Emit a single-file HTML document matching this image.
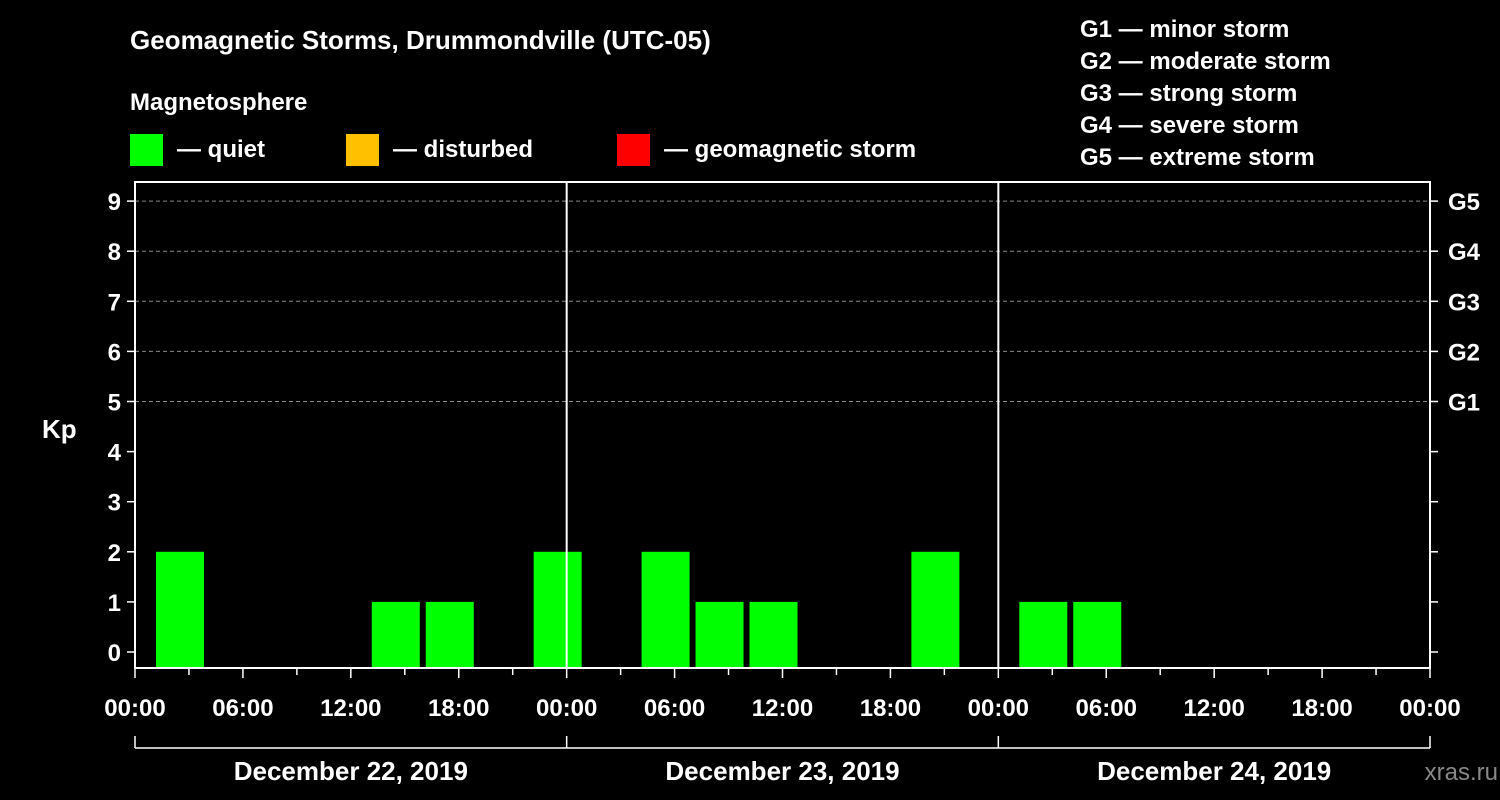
<!DOCTYPE html>
<html><head><meta charset="utf-8"><style>
html,body{margin:0;padding:0;background:#000;}
svg{display:block;font-family:"Liberation Sans",Arial,sans-serif;font-weight:bold;}
</style></head><body>
<svg width="1500" height="800" viewBox="0 0 1500 800" id="chart">
<rect x="0" y="0" width="1500" height="800" fill="#000"/>
<text x="130" y="49" fill="#fff" font-size="26">Geomagnetic Storms, Drummondville (UTC-05)</text>
<text x="130" y="110" fill="#fff" font-size="24">Magnetosphere</text>
<g><rect x="130" y="134" width="33" height="32" fill="#00ff00"/><text x="177" y="157" fill="#fff" font-size="24">— quiet</text></g>
<g><rect x="346" y="134" width="33" height="32" fill="#ffc000"/><text x="393" y="157" fill="#fff" font-size="24">— disturbed</text></g>
<g><rect x="617" y="134" width="33" height="32" fill="#ff0000"/><text x="664" y="157" fill="#fff" font-size="24">— geomagnetic storm</text></g>
<g fill="#fff" font-size="24">
<text x="1080" y="37">G1 — minor storm</text>
<text x="1080" y="69">G2 — moderate storm</text>
<text x="1080" y="101">G3 — strong storm</text>
<text x="1080" y="133">G4 — severe storm</text>
<text x="1080" y="165">G5 — extreme storm</text>
</g>
<text x="42" y="438" fill="#fff" font-size="26">Kp</text>
<text x="1498" y="780" fill="#888" font-size="24" text-anchor="end" font-weight="normal">xras.ru</text>
<g id="plot"></g>
</svg>
<script>
const binStartHours=[1,4,7,10,13,16,19,22,25,28,31,34,37,40,43,46,49,52,55,58,61,64,67,70];
const kpValues=[2,0,0,0,1,1,0,2,0,2,1,1,0,0,2,0,1,1,0,0,0,0,0,0];
const yTicks=[0,1,2,3,4,5,6,7,8,9];
const gLabels=[[5,"G1"],[6,"G2"],[7,"G3"],[8,"G4"],[9,"G5"]];
const xTickLabels=["00:00","06:00","12:00","18:00","00:00","06:00","12:00","18:00","00:00","06:00","12:00","18:00","00:00"];
const dayLabels=["December 22, 2019","December 23, 2019","December 24, 2019"];
const X0=135,X1=1430,TOP=182,BOT=668,totalH=72;
const xs=h=>X0+(X1-X0)*h/totalH;
const ys=v=>652-v*50.1;
const NS="http://www.w3.org/2000/svg";
const g=document.getElementById('plot');
function mk(t,a,txt){const e=document.createElementNS(NS,t);for(const k in a)e.setAttribute(k,a[k]);if(txt!==undefined)e.textContent=txt;g.appendChild(e);return e;}
// grid
gLabels.forEach(([v,l])=>{
 const e=mk('line',{x1:X0,x2:X1,y1:ys(v),y2:ys(v),stroke:'#888','stroke-dasharray':'4,3','stroke-width':1});
 
 
 const t=mk('text',{x:1448,y:ys(v)+9,fill:'#fff','font-size':24},l);
 
 
});
// bars
binStartHours.forEach((h,i)=>{
 const v=kpValues[i]; if(!(v>0))return;
 const a=xs(h+1.5)-24,b=ys(v);
 const r=mk('rect',{x:a,y:b,width:48,height:BOT-b,fill:v>=5?'#ff0000':(v>=4?'#ffc000':'#00ff00')});
 
 
});
// frame
const fr=mk('rect',{x:X0,y:TOP,width:X1-X0,height:BOT-TOP,fill:'none',stroke:'#fff','stroke-width':2});


[24,48].forEach(h=>{const l=mk('line',{x1:xs(h),x2:xs(h),y1:TOP,y2:BOT,stroke:'#fff','stroke-width':2});
 
 });
// y ticks
yTicks.forEach(v=>{
 mk('line',{x1:X0-8,x2:X0,y1:ys(v),y2:ys(v),stroke:'#fff','stroke-width':1.5});
 mk('line',{x1:X1,x2:X1+8,y1:ys(v),y2:ys(v),stroke:'#fff','stroke-width':1.5});
 const t=mk('text',{x:X0-14,y:ys(v)+9,fill:'#fff','font-size':24,'text-anchor':'end'},v);
 
 
});
// x ticks
for(let h=0;h<=totalH;h+=3){mk('line',{x1:xs(h),x2:xs(h),y1:BOT,y2:BOT+(h%6==0?10:7),stroke:'#fff','stroke-width':1.5});}
xTickLabels.forEach((l,i)=>{const t=mk('text',{x:xs(i*6),y:716,fill:'#fff','font-size':24,'text-anchor':'middle'},l);
 
 });
// date bracket
mk('line',{x1:X0,x2:X1,y1:748,y2:748,stroke:'#fff','stroke-width':1.5});
[0,24,48,72].forEach(h=>mk('line',{x1:xs(h),x2:xs(h),y1:736,y2:748,stroke:'#fff','stroke-width':1.5}));
dayLabels.forEach((l,i)=>{const t=mk('text',{x:xs(i*24+12),y:780,fill:'#fff','font-size':26,'text-anchor':'middle'},l);
 
 });
</script>
</body></html>
